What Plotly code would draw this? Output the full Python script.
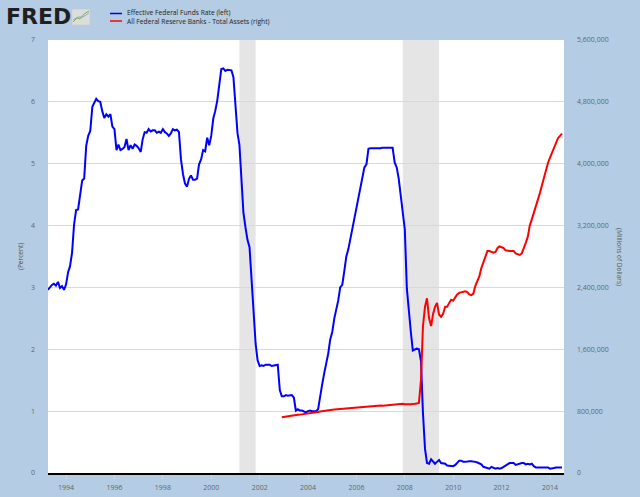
import plotly.graph_objects as go
import pandas as pd

# ---------------- DATA ----------------
# Effective Federal Funds Rate, monthly, Apr 1993 - Jul 2014 (percent)
ffr_start = "1993-04-01"
ffr_values = [
    # 1993 Apr-Dec
    2.96, 3.00, 3.04, 3.06, 3.03, 3.09, 2.99, 3.02, 2.96,
    # 1994
    3.05, 3.25, 3.34, 3.56, 4.01, 4.25, 4.26, 4.47, 4.73, 4.76, 5.29, 5.45,
    # 1995
    5.53, 5.92, 5.98, 6.05, 6.01, 6.00, 5.85, 5.74, 5.80, 5.76, 5.80, 5.60,
    # 1996
    5.56, 5.22, 5.31, 5.22, 5.24, 5.27, 5.40, 5.22, 5.30, 5.24, 5.31, 5.29,
    # 1997
    5.25, 5.19, 5.39, 5.51, 5.50, 5.56, 5.52, 5.54, 5.54, 5.50, 5.52, 5.50,
    # 1998
    5.56, 5.51, 5.49, 5.45, 5.49, 5.56, 5.54, 5.55, 5.51, 5.07, 4.83, 4.68,
    # 1999
    4.63, 4.76, 4.81, 4.74, 4.74, 4.76, 4.99, 5.07, 5.22, 5.20, 5.42, 5.30,
    # 2000
    5.45, 5.73, 5.85, 6.02, 6.27, 6.53, 6.54, 6.50, 6.52, 6.51, 6.51, 6.40,
    # 2001
    5.98, 5.49, 5.31, 4.80, 4.21, 3.97, 3.77, 3.65, 3.07, 2.49, 2.09, 1.82,
    # 2002
    1.73, 1.74, 1.73, 1.75, 1.75, 1.75, 1.73, 1.74, 1.75, 1.75, 1.34, 1.24,
    # 2003
    1.24, 1.26, 1.25, 1.26, 1.26, 1.22, 1.01, 1.03, 1.01, 1.01, 1.00, 0.98,
    # 2004
    1.00, 1.01, 1.00, 1.00, 1.00, 1.03, 1.26, 1.43, 1.61, 1.76, 1.93, 2.16,
    # 2005
    2.28, 2.50, 2.63, 2.79, 3.00, 3.04, 3.26, 3.50, 3.62, 3.78, 4.00, 4.16,
    # 2006
    4.29, 4.49, 4.59, 4.79, 4.94, 4.99, 5.24, 5.25, 5.25, 5.25, 5.25, 5.24,
    # 2007
    5.25, 5.26, 5.26, 5.25, 5.25, 5.25, 5.26, 5.02, 4.94, 4.76, 4.49, 4.24,
    # 2008
    3.94, 2.98, 2.61, 2.28, 1.98, 2.00, 2.01, 2.00, 1.81, 0.97, 0.39, 0.16,
    # 2009
    0.15, 0.22, 0.18, 0.15, 0.18, 0.21, 0.16, 0.16, 0.15, 0.12, 0.12, 0.12,
    # 2010
    0.11, 0.13, 0.16, 0.20, 0.20, 0.18, 0.18, 0.19, 0.19, 0.19, 0.19, 0.18,
    # 2011
    0.17, 0.16, 0.14, 0.10, 0.09, 0.09, 0.07, 0.10, 0.08, 0.07, 0.08, 0.07,
    # 2012
    0.08, 0.10, 0.13, 0.14, 0.16, 0.16, 0.16, 0.13, 0.14, 0.16, 0.16, 0.16,
    # 2013
    0.14, 0.15, 0.14, 0.15, 0.11, 0.09, 0.09, 0.08, 0.08, 0.09, 0.08, 0.09,
    # 2014 Jan-Jul
    0.07, 0.07, 0.08, 0.09, 0.09, 0.10, 0.09,
]

# All Federal Reserve Banks - Total Assets, monthly, Dec 2002 - Jul 2014 (millions of dollars)
assets_start = "2002-12-01"
assets_values = [
    720000,
    # 2003
    725000, 728000, 735000, 740000, 742000, 745000, 748000, 752000, 755000, 758000, 762000, 770000,
    # 2004
    770000, 772000, 775000, 780000, 785000, 790000, 795000, 800000, 805000, 808000, 812000, 818000,
    # 2005
    818000, 820000, 822000, 825000, 828000, 832000, 835000, 838000, 840000, 842000, 845000, 850000,
    # 2006
    848000, 850000, 852000, 855000, 858000, 860000, 860000, 862000, 865000, 868000, 870000, 875000,
    # 2007
    872000, 870000, 872000, 875000, 878000, 880000, 882000, 890000, 885000, 888000, 890000, 895000,
    # 2008
    890000, 895000, 890000, 890000, 890000, 895000, 900000, 905000, 1200000, 1900000, 2150000, 2260000,
    # 2009
    2000000, 1900000, 2050000, 2150000, 2200000, 2050000, 2020000, 2060000, 2150000, 2150000, 2200000, 2240000,
    # 2010
    2230000, 2270000, 2310000, 2330000, 2340000, 2350000, 2350000, 2340000, 2310000, 2300000, 2320000, 2420000,
    # 2011
    2480000, 2550000, 2650000, 2730000, 2800000, 2870000, 2870000, 2860000, 2850000, 2860000, 2910000, 2930000,
    # 2012
    2920000, 2910000, 2880000, 2870000, 2870000, 2870000, 2870000, 2840000, 2830000, 2820000, 2840000, 2900000,
    # 2013
    2980000, 3060000, 3200000, 3280000, 3360000, 3450000, 3540000, 3620000, 3720000, 3820000, 3920000, 4010000,
    # 2014
    4080000, 4140000, 4200000, 4260000, 4330000, 4360000, 4390000,
]

recession_starts = ["2001-03-01", "2007-12-01"]
recession_ends = ["2001-11-01", "2009-06-01"]

series_names = ["Effective Federal Funds Rate (left)",
                "All Federal Reserve Banks - Total Assets (right)"]
left_title = "(Percent)"
right_title = "(Millions of Dollars)"

ffr_dates = pd.date_range(ffr_start, periods=len(ffr_values), freq="MS")
assets_dates = pd.date_range(assets_start, periods=len(assets_values), freq="MS")

# ---------------- FIGURE ----------------
BG = "#b4cde4"
W, H = 640, 497
ML, MR, MT, MB = 48, 76, 40, 24

fig = go.Figure()
fig.add_trace(go.Scatter(x=ffr_dates, y=ffr_values, mode="lines",
                         line=dict(color="#0000ff", width=2), name=series_names[0],
                         yaxis="y"))
fig.add_trace(go.Scatter(x=assets_dates, y=assets_values, mode="lines",
                         line=dict(color="#ff0000", width=2), name=series_names[1],
                         yaxis="y2"))

shapes = []
for s, e in zip(recession_starts, recession_ends):
    shapes.append(dict(type="rect", xref="x", yref="paper", x0=s, x1=e, y0=0, y1=1,
                       fillcolor="#e5e5e5", line=dict(width=0), layer="below"))

# manual legend
pw = W - ML - MR
ph = H - MT - MB
def px(xp):
    return (xp - ML) / pw
def py(yp):
    return (H - MB - yp) / ph

legend_colors = ["#0000ff", "#ff0000"]
legend_y = [13.5, 21]
annotations = []
for col, ly in zip(legend_colors, legend_y):
    shapes.append(dict(type="line", xref="paper", yref="paper",
                       x0=px(110), x1=px(122), y0=py(ly), y1=py(ly),
                       line=dict(color=col, width=1.5)))
annotations.append(dict(xref="paper", yref="paper", x=px(125), y=py(17.3),
                        text="<br>".join(series_names), showarrow=False,
                        xanchor="left", yanchor="middle", align="left",
                        font=dict(family="Open Sans", size=6.7, color="#222222")))

# FRED logo
annotations.append(dict(xref="paper", yref="paper", x=px(4), y=py(17), text="<b>FRED</b>",
                        showarrow=False, xanchor="left", yanchor="middle",
                        font=dict(family="DejaVu Sans", size=22, color="#231f20")))
shapes.append(dict(type="rect", xref="paper", yref="paper", x0=px(72), x1=px(90),
                   y0=py(25), y1=py(9), fillcolor="#dcdcdc", line=dict(color="#c8c8c8", width=0.5)))
shapes.append(dict(type="path", xref="paper", yref="paper",
                   path="M {} {} L {} {} L {} {} L {} {} L {} {}".format(
                       px(73), py(22), px(77), py(18), px(80), py(19), px(84), py(14), px(89), py(11)),
                   line=dict(color="#7fb24c", width=1)))
shapes.append(dict(type="path", xref="paper", yref="paper",
                   path="M {} {} L {} {} L {} {} L {} {}".format(
                       px(73), py(20), px(78), py(17), px(83), py(17), px(89), py(13)),
                   line=dict(color="#7aa0c8", width=0.8)))

# axis titles
annotations.append(dict(xref="paper", yref="paper", x=px(14), y=0.5, text=left_title,
                        showarrow=False, textangle=-90,
                        font=dict(family="Open Sans", size=6.5, color="#555555")))
annotations.append(dict(xref="paper", yref="paper", x=px(626), y=0.5, text=right_title,
                        showarrow=False, textangle=90,
                        font=dict(family="Open Sans", size=6.5, color="#555555")))

tickfont = dict(family="Open Sans", size=7, color="#666666")
fig.update_layout(
    width=W, height=H,
    margin=dict(l=ML, r=MR, t=MT, b=MB, autoexpand=False),
    paper_bgcolor=BG, plot_bgcolor="#ffffff",
    showlegend=False,
    shapes=shapes, annotations=annotations,
    xaxis=dict(type="date", range=["1993-04-03", "2014-07-31"],
               tick0="1994-01-01", dtick="M24", tickformat="%Y",
               showgrid=False, zeroline=False,
               showline=True, linecolor="#000000", linewidth=2,
               ticks="outside", ticklen=4, tickcolor="#c9d9ea",
               tickfont=tickfont, ticklabelstandoff=3, automargin=False),
    yaxis=dict(range=[0, 7], dtick=1, showgrid=True, gridcolor="#d9d9d9", gridwidth=1,
               zeroline=False, showline=False, tickfont=tickfont, ticks="",
               ticklabelstandoff=12, automargin=False),
    yaxis2=dict(range=[0, 5600000], dtick=800000, overlaying="y", side="right",
                showgrid=False, zeroline=False, showline=False, tickformat=",d",
                tickfont=tickfont, ticks="", ticklabelstandoff=12, automargin=False),
)

fig.write_html("out.html", config={"displayModeBar": False},
               post_script="document.body.style.margin='0px';")
